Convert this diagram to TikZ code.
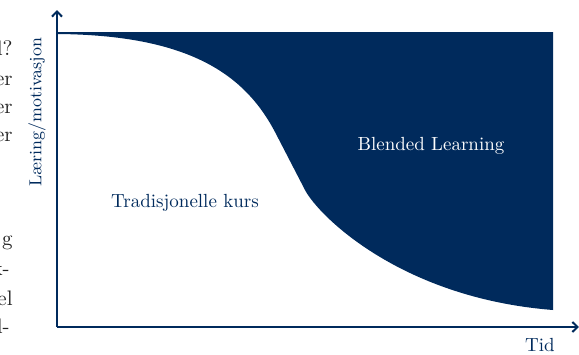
\documentclass[tikz,border=0pt]{standalone}
\usetikzlibrary{arrows.meta}
\definecolor{navy}{RGB}{0,42,92}
\definecolor{pagetext}{RGB}{35,35,35}
\tikzset{
  axis/.style={draw=navy, line width=1.1pt, -{Straight Barb[length=2.6pt,width=5pt,line width=1pt]}},
  lbl/.style={inner sep=0pt, font=\fontsize{9.5}{11}\selectfont},
  frag/.style={inner sep=0pt, anchor=base east, text=pagetext, font=\fontsize{10.5}{12}\selectfont},
}
\begin{document}
\begin{tikzpicture}[x=0.5pt,y=-0.5pt]
\useasboundingbox (0,0) rectangle (579,354);
% fill region (Blended Learning share)
\fill[navy] (57,34) .. controls (190,35) and (245,75) .. (275,132)
  -- (305,190) .. controls (318,215) and (400,298) .. (553,310)
  -- (553,32) -- (57,32) -- cycle;
% axes
\coordinate (O) at (57,327);
\coordinate (ytop) at (57,10);
\coordinate (xend) at (579,327);
\draw[axis] (O) -- (ytop);
\draw[axis] (O) -- (xend);
% labels
\node[lbl, text=white] (bl) at (431,146) {Blended Learning};
\node[lbl, text=navy] (tk) at (185,203) {Tradisjonelle kurs};
\node[lbl, text=navy, anchor=base east] (tid) at (555,351) {Tid};
\node[lbl, text=navy, rotate=90, font=\fontsize{8.7}{10}\selectfont] (ylab) at (37,112) {Læring/motivasjon};
% cropped page text at the left edge
\node[frag] (f1) at (13,55) {l?};
\node[frag] (f2) at (13,85) {er};
\node[frag] (f3) at (13,113) {er};
\node[frag] (f4) at (13,141) {er};
\node[frag] (f5) at (13,245) {g};
\node[frag] (f6) at (10,275) {k-};
\node[frag] (f7) at (13,305) {el};
\node[frag] (f8) at (10,333) {l-};
\end{tikzpicture}
\end{document}
